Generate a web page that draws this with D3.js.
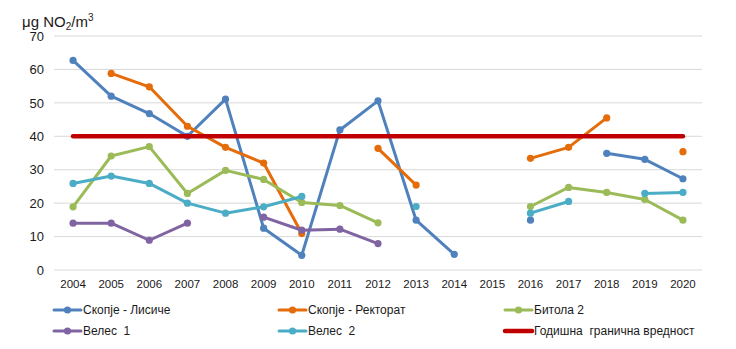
<!DOCTYPE html>
<html>
<head>
<meta charset="utf-8">
<script src="https://cdn.jsdelivr.net/npm/d3@7"></script>
<style>
  html, body { margin: 0; padding: 0; background: #fff; }
  svg text { font-family: "Liberation Sans", Arial, sans-serif; fill: #1a1a1a; }
</style>
</head>
<body>
<svg id="chart" width="736" height="349"></svg>
<script>
// Annual mean NO2 concentrations (µg/m³) by monitoring station
const years = [2004, 2005, 2006, 2007, 2008, 2009, 2010, 2011, 2012, 2013, 2014, 2015, 2016, 2017, 2018, 2019, 2020];
const yTicks = [0, 10, 20, 30, 40, 50, 60, 70];

const skopjeLisice   = [62.7, 52.0, 46.8, 40.0, 51.1, 12.5, 4.4, 41.9, 50.6, 14.9, 4.7, null, 14.9, null, 34.9, 33.1, 27.3];
const skopjeRektorat = [null, 58.8, 54.8, 43.0, 36.7, 32.0, 10.9, null, 36.4, 25.4, null, null, 33.4, 36.7, 45.5, null, 35.4];
const bitola2        = [18.9, 34.1, 36.9, 22.9, 29.8, 27.1, 20.2, 19.3, 14.1, null, null, null, 19.0, 24.7, 23.2, 21.1, 14.9];
const veles1         = [14.0, 14.0, 8.9, 14.0, null, 15.8, 11.9, 12.2, 7.9, null, null, null, null, null, null, null, null];
const veles2         = [25.9, 28.1, 25.9, 20.0, 17.0, 18.9, 22.0, null, null, 19.0, null, null, 17.0, 20.5, null, 22.9, 23.2];
const limitValue     = [40, 40, 40, 40, 40, 40, 40, 40, 40, 40, 40, 40, 40, 40, 40, 40, 40];

const seriesNames = ["Скопје - Лисиче", "Скопје - Ректорат", "Битола 2", "Велес  1", "Велес  2", "Годишна  гранична вредност"];
const seriesColors = ["#4F81BD", "#E46C0A", "#9BBB59", "#8064A2", "#4BACC6", "#C00000"];

const stations = [skopjeLisice, skopjeRektorat, bitola2, veles1, veles2];

const svg = d3.select("#chart");
const plotLeft = 54, plotRight = 702, plotTop = 36, plotBottom = 270;

const x = d3.scaleBand().domain(years).range([plotLeft, plotRight]).padding(0);
const cx = yr => x(yr) + x.bandwidth() / 2;
const y = d3.scaleLinear().domain([0, 70]).range([plotBottom, plotTop]);

// Horizontal gridlines
svg.append("g")
  .selectAll("line")
  .data(yTicks)
  .join("line")
  .attr("x1", plotLeft).attr("x2", plotRight)
  .attr("y1", d => y(d)).attr("y2", d => y(d))
  .attr("stroke", "#D9D9D9").attr("stroke-width", 1);

// Y axis labels
const yAxis = svg.append("g")
  .attr("transform", `translate(${plotLeft - 10},0)`)
  .call(d3.axisLeft(y).tickValues(yTicks).tickSize(0).tickPadding(0));
yAxis.select(".domain").remove();
yAxis.selectAll("text").style("font-size", "13px").style("font-family", "Liberation Sans, Arial, sans-serif").attr("fill", "#1a1a1a");

// X axis labels
const xAxis = svg.append("g")
  .attr("transform", `translate(0,${plotBottom + 10})`)
  .call(d3.axisBottom(x).tickSize(0).tickPadding(0));
xAxis.select(".domain").remove();
xAxis.selectAll("text").style("font-size", "11.5px").style("font-family", "Liberation Sans, Arial, sans-serif").attr("fill", "#1a1a1a");

// Unit title
const title = svg.append("text").attr("x", 22).attr("y", 27).style("font-size", "15px");
title.append("tspan").text("μg NO");
title.append("tspan").text("2").attr("dy", 3).style("font-size", "10px");
title.append("tspan").text("/m").attr("dy", -3);
title.append("tspan").text("3").attr("dy", -6).style("font-size", "10px");

const line = d3.line()
  .defined(d => d.v != null)
  .x(d => cx(d.yr))
  .y(d => y(d.v));

// Station series: lines with round markers
stations.forEach((vals, i) => {
  const pts = years.map((yr, j) => ({ yr, v: vals[j] }));
  const g = svg.append("g");
  g.append("path")
    .datum(pts)
    .attr("d", line)
    .attr("fill", "none")
    .attr("stroke", seriesColors[i])
    .attr("stroke-width", 3)
    .attr("stroke-linejoin", "round");
  g.selectAll("circle")
    .data(pts.filter(d => d.v != null))
    .join("circle")
    .attr("cx", d => cx(d.yr))
    .attr("cy", d => y(d.v))
    .attr("r", 3.6)
    .attr("fill", seriesColors[i]);
});

// Annual limit value
svg.append("path")
  .datum(years.map((yr, j) => ({ yr, v: limitValue[j] })))
  .attr("d", line)
  .attr("fill", "none")
  .attr("stroke", seriesColors[5])
  .attr("stroke-width", 4.5)
  .attr("stroke-linecap", "round");

// Legend
const legendPos = [
  { x: 54, y: 310 }, { x: 279, y: 310 }, { x: 505, y: 310 },
  { x: 54, y: 331 }, { x: 279, y: 331 }, { x: 505, y: 331 }
];
seriesNames.forEach((name, i) => {
  const p = legendPos[i];
  const g = svg.append("g").attr("transform", `translate(${p.x},${p.y})`);
  const isLimit = i === 5;
  g.append("line")
    .attr("x1", 0).attr("x2", 27).attr("y1", 0).attr("y2", 0)
    .attr("stroke", seriesColors[i])
    .attr("stroke-width", isLimit ? 4.5 : 3)
    .attr("stroke-linecap", "round");
  if (!isLimit) {
    g.append("circle").attr("cx", 13.5).attr("cy", 0).attr("r", 3.6).attr("fill", seriesColors[i]);
  }
  g.append("text")
    .attr("x", 29).attr("y", 4.3)
    .style("font-size", "12px")
    .style("white-space", "pre")
    .text(name);
});
</script>
</body>
</html>
